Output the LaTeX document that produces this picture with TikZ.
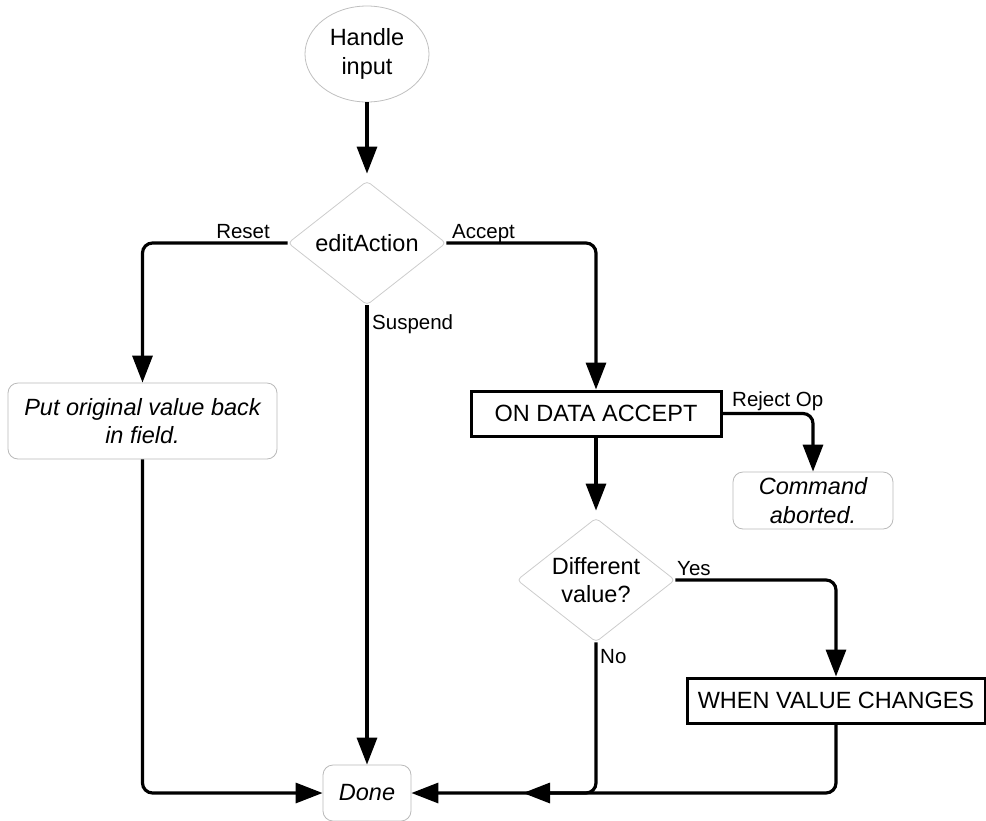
\documentclass[tikz,border=0pt]{standalone}
\usepackage{fontspec}
\setmainfont{Liberation Sans}
\usetikzlibrary{arrows.meta,shapes.geometric}
\begin{document}
\begin{tikzpicture}[x=1pt,y=-1pt,
  flow/.style={line width=3.2pt, -{Triangle[length=27pt,width=20pt]}, rounded corners=10pt},
  txt/.style={font=\fontsize{23.5}{28.5}\selectfont, align=center},
  lbl/.style={font=\fontsize{20.5}{24}\selectfont, inner sep=0pt},
  startend/.style={ellipse, draw=gray!50, line width=0.8pt, minimum width=124pt, minimum height=96pt, inner sep=0pt, txt},
  decision/.style={diamond, draw=gray!40, line width=0.8pt, rounded corners=4pt, inner sep=0pt, minimum width=158pt, minimum height=124pt},
  note/.style={rectangle, draw=gray!55, line width=0.8pt, rounded corners=10pt, inner sep=0pt, align=center, font=\fontsize{23.5}{28.5}\selectfont\itshape},
  event/.style={rectangle, draw=black, line width=3pt, inner sep=0pt, txt},
]
\useasboundingbox (0,0) rectangle (986,820);

% shapes
\node[startend] (handle) at (367,54) {Handle\\input};
\node[decision, label={[txt]center:editAction}] (edit) at (367,243) {};
\node[note, minimum width=269pt, minimum height=76pt] (put) at (142.5,421) {Put original value back\\in field.};
\node[event, minimum width=250pt, minimum height=45pt] (oda) at (596,413.5) {ON DATA ACCEPT};
\node[note, minimum width=160pt, minimum height=57pt] (cmd) at (813,500.5) {Command\\aborted.};
\node[decision, label={[txt]center:{Different\\value?}}] (diff) at (596,580) {};
\node[event, minimum width=298pt, minimum height=45pt] (when) at (836,700.5) {WHEN VALUE CHANGES};
\node[note, minimum width=88pt, minimum height=56pt] (done) at (367,793) {Done};
\coordinate (noend) at (523,793);

% connectors
\draw[flow, shorten >=7pt] (handle.south) -- (edit.north);
\draw[flow] (edit.west) -| (put.north);
\draw[flow] (edit.south) -- (done.north);
\draw[flow] (edit.east) -| (oda.north);
\draw[flow] (put.south) |- (done.west);
\draw[flow] (oda.east) -| (cmd.north);
\draw[flow, shorten >=7pt] (oda.south) -- (diff.north);
\draw[flow] (diff.east) -| (when.north);
\draw[flow] (diff.south) |- (noend);
\draw[flow] (when.south) |- (done.east);

% connector labels
\node[lbl, anchor=base east] (lreset) at (270,238) {Reset};
\node[lbl, anchor=base west] (laccept) at (452,238) {Accept};
\node[lbl, anchor=base west] (lsuspend) at (372,329) {Suspend};
\node[lbl, anchor=base west] (lreject) at (732,406) {Reject Op};
\node[lbl, anchor=base west] (lyes) at (677,575) {Yes};
\node[lbl, anchor=base west] (lno) at (600,663) {No};
\end{tikzpicture}
\end{document}
